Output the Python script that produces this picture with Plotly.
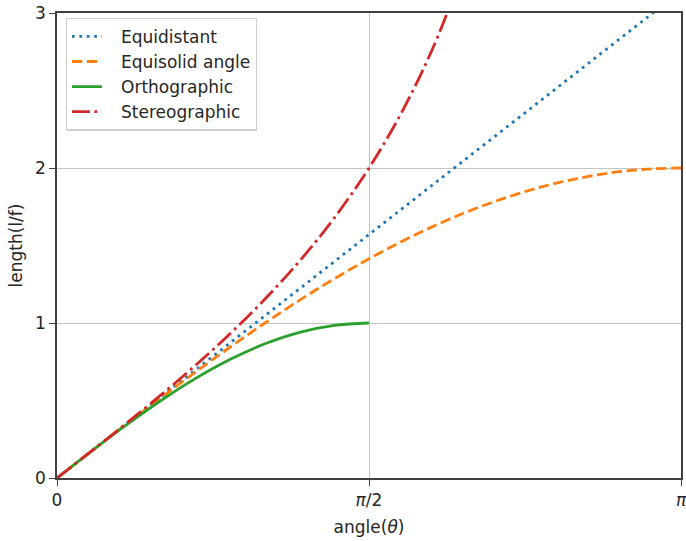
import plotly.graph_objects as go

# angle in degrees (axis labelled in radians: 0, pi/2, pi)
angle_deg = [0, 10, 20, 30, 40, 50, 60, 70, 80, 90, 100, 110, 120, 130, 140, 150, 160, 170, 180]
equidistant = [0, 0.1745, 0.3491, 0.5236, 0.6981, 0.8727, 1.0472, 1.2217, 1.3963, 1.5708,
               1.7453, 1.9199, 2.0944, 2.2689, 2.4435, 2.6180, 2.7925, 2.9671, 3.1416]
equisolid = [0, 0.1743, 0.3473, 0.5176, 0.6840, 0.8452, 1.0, 1.1472, 1.2856, 1.4142,
             1.5321, 1.6383, 1.7321, 1.8126, 1.8794, 1.9319, 1.9696, 1.9924, 2.0]
ortho_deg = [0, 10, 20, 30, 40, 50, 60, 70, 80, 90]
orthographic = [0, 0.1736, 0.3420, 0.5, 0.6428, 0.7660, 0.8660, 0.9397, 0.9848, 1.0]
stereo_deg = [0, 10, 20, 30, 40, 50, 60, 70, 80, 90, 100, 110, 120]
stereographic = [0, 0.1750, 0.3527, 0.5359, 0.7279, 0.9326, 1.1547, 1.4004, 1.6782, 2.0,
                 2.3835, 2.8563, 3.4641]

series_names = ["Equidistant", "Equisolid angle", "Orthographic", "Stereographic"]
x_tickvals = [0, 90, 180]
x_ticktext = ["0", "<i>π</i>/2", "<i>π</i>"]
y_tickvals = [0, 1, 2, 3]

FONT = "DejaVu Sans"
FS = 17
TXT = "#262626"
LW = 2.8
PAD = "\u2002\u2004"  # gap between legend handle and label

fig = go.Figure()
fig.add_trace(go.Scatter(x=angle_deg, y=equidistant, mode="lines", name=PAD + series_names[0],
                         line=dict(color="#1f77b4", width=LW, dash="2.8px,4.6px", shape="spline")))
fig.add_trace(go.Scatter(x=angle_deg, y=equisolid, mode="lines", name=PAD + series_names[1],
                         line=dict(color="#ff7f0e", width=LW, dash="10.4px,4.5px", shape="spline")))
fig.add_trace(go.Scatter(x=ortho_deg, y=orthographic, mode="lines", name=PAD + series_names[2],
                         line=dict(color="#2ca02c", width=LW, shape="spline")))
fig.add_trace(go.Scatter(x=stereo_deg, y=stereographic, mode="lines", name=PAD + series_names[3],
                         line=dict(color="#d62728", width=LW, dash="18px,4.5px,2.8px,4.5px", shape="spline")))

axis_common = dict(
    showline=True, mirror=True, linecolor="#404040", linewidth=1.6,
    ticks="outside", ticklen=6, tickwidth=1.4, tickcolor="#404040",
    showgrid=True, gridcolor="#c4c4c4", gridwidth=1.2, zeroline=False,
    tickfont=dict(family=FONT, size=FS, color=TXT),
    automargin=False, ticklabeloverflow="allow",
)

fig.update_xaxes(range=[0, 180], tickvals=x_tickvals, ticktext=x_ticktext,
                 title=dict(text="angle(<i>θ</i>)", font=dict(family=FONT, size=FS, color=TXT), standoff=12),
                 **axis_common)
fig.update_yaxes(range=[0, 3], tickvals=y_tickvals,
                 title=dict(text="length(l/f)", font=dict(family=FONT, size=FS, color=TXT), standoff=8),
                 **axis_common)

fig.update_layout(
    width=686, height=541,
    margin=dict(l=57, r=5, t=13, b=63),
    paper_bgcolor="white", plot_bgcolor="white",
    font=dict(family=FONT, size=FS, color=TXT),
    showlegend=True,
    legend=dict(x=0.014, y=0.99, xanchor="left", yanchor="top",
                bgcolor="rgba(255,255,255,0.85)", bordercolor="#d0d0d0", borderwidth=1.2,
                font=dict(family=FONT, size=FS, color=TXT),
                traceorder="normal"),
)

# remove the page's default body margin so the figure fills the window exactly
fig.write_html("out.html", config={"displayModeBar": False},
               post_script="document.body.style.margin='0';")
